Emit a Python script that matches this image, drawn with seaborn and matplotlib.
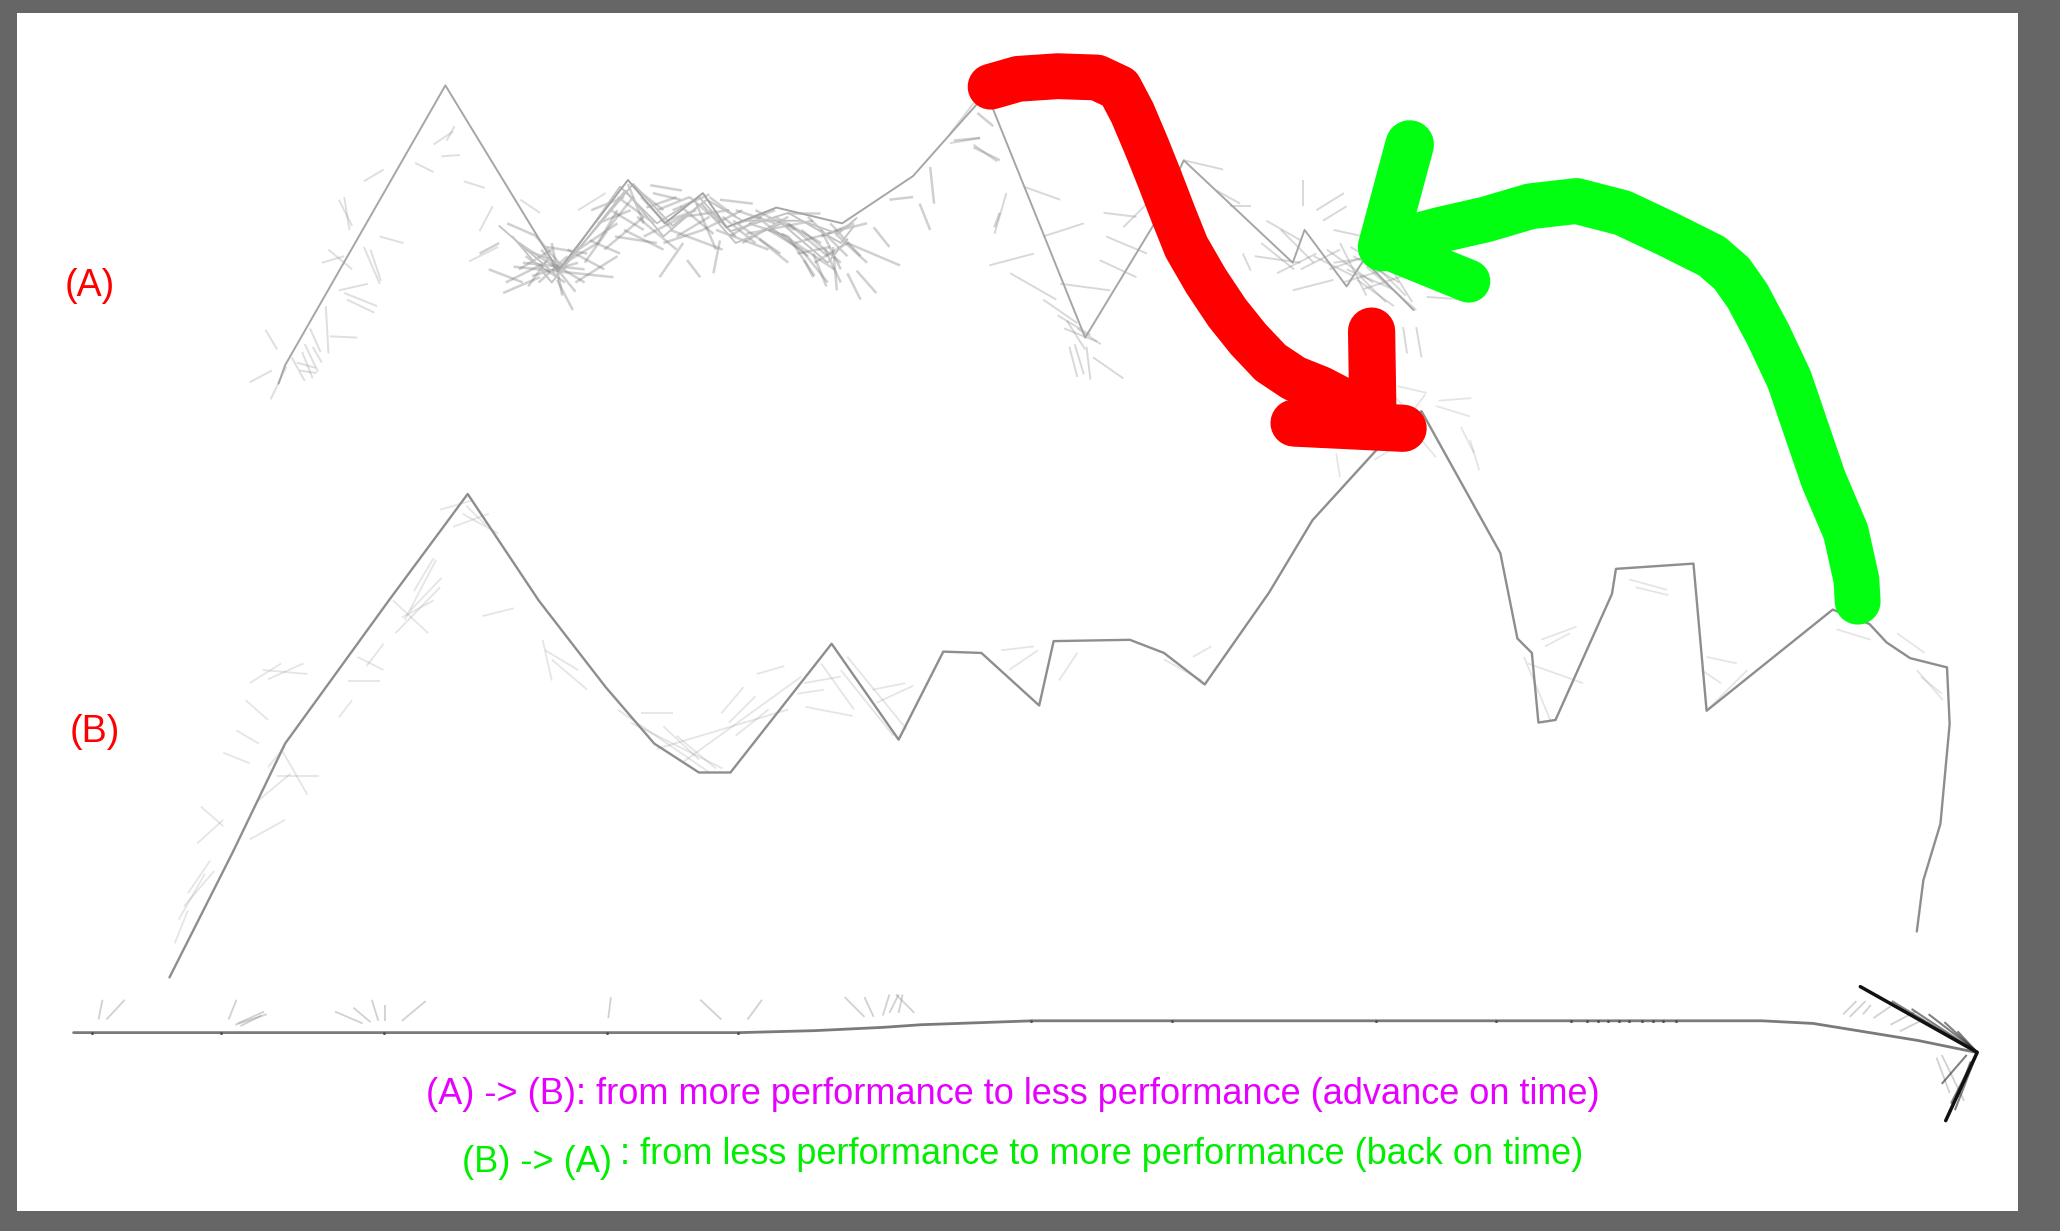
import numpy as np
import pandas as pd
import matplotlib
matplotlib.use("Agg")
import matplotlib.pyplot as plt
from matplotlib.collections import LineCollection
from matplotlib.patches import Rectangle
import seaborn as sns

# ---------------- data (coordinates, in a 1568x937 frame) -------------
A_X = [212, 217, 339, 425, 478, 506, 535, 553, 591, 641, 695, 726, 751, 826, 880, 901, 984, 993, 1025, 1038, 1076]
A_Y = [292, 278, 65, 206, 137, 170, 147, 173, 158, 170, 134, 99, 71, 257, 168, 122, 200, 175, 218, 198, 236]

A_ALT1_X = [380, 424, 472, 500, 532, 556, 600, 640, 650]
A_ALT1_Y = [172, 210, 142, 170, 150, 176, 162, 185, 172]
A_ALT2_X = [400, 430, 482, 512, 538, 565, 610, 638, 652]
A_ALT2_Y = [190, 202, 140, 172, 152, 168, 168, 178, 166]
A_ALT3_X = [390, 420, 476, 505, 534, 560, 595, 630, 645]
A_ALT3_Y = [180, 215, 145, 180, 155, 185, 170, 200, 182]

B_X = [129, 177, 217, 296, 356, 410, 461, 498, 532, 556, 633, 684, 718, 747, 791, 802, 860, 886, 917,
       966, 999, 1050, 1082, 1142, 1155, 1166, 1171, 1184, 1227, 1230, 1289, 1299, 1395, 1423, 1436,
       1454, 1482, 1484, 1477, 1464, 1459]
B_Y = [744, 649, 566, 457, 376, 457, 523, 566, 588, 588, 490, 563, 496, 497, 537, 488, 487, 497, 521,
       451, 396, 340, 313, 421, 486, 497, 550, 548, 452, 433, 429, 541, 464, 475, 489,
       501, 508, 551, 627, 670, 709]

AXIS_X = [56, 563, 620, 672, 701, 786, 1341, 1380, 1417, 1460, 1504]
AXIS_Y = [786, 786, 784.5, 782, 780, 777, 777, 779, 785, 792, 801]
TICK_X = [70, 168, 292, 462, 562, 785, 892, 1047, 1139, 1196, 1208, 1216, 1224, 1232, 1240, 1250, 1258, 1266, 1276]
TICK_Y = [786, 786, 786, 786, 786, 777, 777, 777, 777, 777, 777, 777, 777, 777, 777, 777, 777, 777, 777]

END_X = [1416, 1505, 1481]
END_Y = [751, 801, 853]

RED_X = [754, 775, 805, 835, 852, 862, 873, 883, 893, 903, 918, 934, 950, 967, 985, 1005, 1028, 1042]
RED_Y = [66, 60, 58, 59, 67, 86, 112, 137, 163, 188, 214, 238, 258, 276, 288, 296, 308, 316]
RED_HEAD_V_X = [1044, 1045]
RED_HEAD_V_Y = [252, 316]
RED_HEAD_H_X = [985, 1068]
RED_HEAD_H_Y = [322, 326]

GREEN_X = [1414, 1413, 1405, 1388, 1376, 1362, 1346, 1330, 1318, 1303, 1269, 1235, 1200, 1165, 1131, 1096, 1058]
GREEN_Y = [458, 441, 405, 365, 330, 289, 255, 225, 208, 195, 178, 162, 153, 157, 167, 175, 185]
GREEN_HEAD1_X = [1052, 1073]
GREEN_HEAD1_Y = [188, 110]
GREEN_HEAD2_X = [1054, 1118]
GREEN_HEAD2_Y = [188, 214]

STROKES_A_LEFT = [
    (190, 291, 207, 282), (206, 304, 218, 279), (202, 251, 211, 266), (228, 282, 241, 284),
    (226, 276, 240, 280), (238, 264, 245, 276), (232, 262, 242, 283), (251, 256, 272, 257),
    (248, 233, 250, 269), (258, 221, 280, 216), (262, 223, 287, 233), (264, 228, 285, 238),
    (277, 188, 289, 216), (282, 190, 290, 214), (289, 180, 307, 185), (258, 152, 268, 172),
    (262, 150, 266, 175), (277, 138, 292, 129), (316, 124, 330, 131), (336, 119, 350, 118),
    (353, 138, 369, 143), (340, 107, 346, 96), (330, 110, 345, 100), (365, 176, 375, 157),
    (357, 199, 379, 188), (396, 152, 411, 162), (440, 160, 461, 147), (245, 200, 262, 195),
    (250, 190, 268, 205), (222, 272, 232, 290), (230, 268, 238, 288), (236, 250, 244, 268),
]
STROKES_A_MID = [
    (365, 193, 380, 185), (383, 223, 411, 211), (386, 170, 409, 180), (424, 213, 436, 236),
    (391, 203, 467, 211), (416, 188, 447, 193), (449, 183, 472, 193), (495, 141, 519, 145),
    (497, 147, 518, 152), (518, 157, 543, 178), (502, 211, 520, 185), (523, 198, 533, 211),
    (543, 208, 548, 183), (548, 152, 573, 155), (558, 168, 594, 193), (568, 178, 619, 168),
    (599, 162, 624, 162), (607, 193, 632, 188), (612, 198, 619, 211), (619, 193, 629, 218),
    (634, 188, 637, 221), (639, 175, 660, 170), (645, 185, 685, 202), (645, 208, 655, 228),
    (652, 206, 667, 223), (665, 173, 677, 188), (700, 155, 708, 175), (708, 127, 711, 155),
    (677, 152, 695, 150), (726, 107, 746, 105), (741, 112, 761, 122), (744, 86, 756, 96),
    (757, 173, 761, 162),
    (400, 195, 430, 215), (405, 210, 440, 200), (395, 185, 425, 205), (410, 215, 432, 195),
    (398, 200, 445, 205), (412, 190, 438, 222), (420, 185, 428, 225), (430, 200, 455, 185),
    (402, 218, 418, 196), (440, 190, 470, 170), (445, 200, 462, 176), (455, 170, 480, 160),
    (465, 160, 490, 175), (470, 150, 498, 170), (478, 140, 490, 170), (482, 142, 505, 160),
    (488, 150, 512, 175), (500, 160, 525, 150), (508, 168, 530, 160), (515, 180, 540, 165),
    (525, 150, 548, 170), (530, 155, 545, 190), (540, 160, 560, 180), (550, 165, 575, 185),
    (560, 160, 590, 170), (570, 170, 600, 180), (575, 160, 605, 175), (585, 175, 610, 190),
    (590, 165, 625, 185), (600, 170, 630, 195), (610, 175, 640, 200), (615, 165, 645, 195),
    (625, 180, 650, 170), (605, 185, 640, 175), (620, 200, 645, 185), (628, 190, 640, 215),
    (395, 205, 420, 190), (385, 215, 415, 200), (372, 205, 398, 215),
    (455, 185, 470, 160), (460, 190, 490, 165), (468, 180, 500, 185), (475, 175, 505, 190),
    (485, 165, 515, 190), (490, 180, 520, 165), (505, 185, 535, 175), (510, 175, 550, 190),
    (520, 165, 555, 160), (535, 175, 565, 160), (545, 175, 585, 190), (555, 180, 580, 165),
    (565, 185, 600, 165), (580, 168, 615, 195), (595, 178, 635, 205), (632, 170, 655, 195),
    (420, 200, 445, 215), (432, 190, 460, 205), (438, 215, 470, 195), (408, 180, 430, 205),
    (450, 160, 475, 150), (462, 175, 482, 150), (492, 158, 515, 150), (512, 160, 540, 148),
    (540, 150, 560, 165), (562, 170, 590, 160), (578, 182, 600, 200), (600, 180, 620, 210),
    (610, 190, 630, 215), (625, 175, 640, 205), (636, 178, 660, 200),
]
STROKES_A_RIGHT = [
    (723, 102, 743, 76), (723, 109, 746, 105), (741, 110, 759, 123), (757, 178, 766, 147),
    (779, 142, 807, 152), (753, 202, 787, 193), (769, 208, 804, 228), (794, 180, 825, 170),
    (794, 228, 820, 246), (807, 216, 845, 221), (814, 264, 820, 287), (827, 264, 830, 289),
    (832, 272, 855, 288), (818, 262, 825, 285), (840, 162, 865, 165), (842, 180, 873, 193),
    (837, 198, 865, 211), (855, 173, 878, 150), (901, 122, 931, 129), (926, 145, 944, 155),
    (936, 157, 952, 157), (946, 193, 952, 206), (964, 168, 990, 183), (992, 137, 992, 157),
    (1002, 160, 1023, 147), (1007, 168, 1025, 157), (972, 208, 1002, 193), (984, 221, 1015, 213),
    (1015, 175, 1038, 180), (1028, 188, 1053, 203), (1033, 213, 1061, 233), (1040, 203, 1078, 236),
    (1068, 249, 1071, 269), (1078, 249, 1082, 272), (1083, 213, 1109, 223), (1086, 226, 1114, 228),
    (1010, 190, 1045, 215), (1015, 200, 1050, 195), (1020, 185, 1040, 225), (1025, 205, 1060, 220),
    (1030, 195, 1065, 215), (1035, 210, 1055, 230), (1000, 195, 1030, 210), (1045, 200, 1070, 225),
    (1050, 190, 1075, 230), (960, 185, 985, 205), (955, 195, 990, 200), (975, 175, 1000, 200),
    (805, 240, 830, 255), (810, 250, 835, 260), (820, 250, 838, 262), (812, 244, 826, 266),
    (1012, 205, 1040, 195), (1022, 215, 1055, 205), (1038, 220, 1068, 210), (990, 205, 1020, 190),
]
STROKES_B = [
    (133, 718, 143, 693), (136, 700, 156, 665), (143, 680, 160, 655), (140, 690, 163, 663),
    (150, 642, 170, 624), (153, 614, 170, 629), (170, 573, 190, 581), (180, 556, 197, 566),
    (187, 533, 204, 548), (190, 520, 214, 505), (200, 510, 234, 513), (204, 517, 231, 505),
    (204, 584, 217, 568), (197, 609, 221, 589), (211, 591, 243, 591), (190, 639, 217, 624),
    (214, 570, 234, 605), (258, 546, 268, 533), (265, 518, 289, 518), (272, 500, 292, 510),
    (279, 507, 292, 490), (299, 457, 326, 482), (306, 470, 330, 457), (367, 469, 391, 463),
    (301, 482, 335, 447), (308, 472, 332, 426), (312, 465, 336, 440), (315, 450, 330, 425),
    (335, 388, 359, 381), (345, 401, 372, 391), (352, 391, 379, 406), (355, 385, 370, 400),
    (413, 487, 420, 518), (420, 502, 447, 525), (415, 495, 440, 510), (488, 543, 512, 543),
    (505, 553, 532, 578), (515, 560, 545, 585), (549, 543, 566, 523), (555, 550, 575, 530),
    (576, 513, 597, 507), (560, 560, 585, 540), (607, 528, 627, 525), (612, 520, 640, 515),
    (613, 538, 649, 545), (664, 525, 689, 520), (667, 535, 695, 522), (640, 510, 680, 560),
    (645, 500, 690, 555), (625, 505, 650, 540), (762, 495, 787, 492), (768, 510, 790, 495),
    (806, 518, 820, 497), (886, 502, 915, 518), (908, 500, 922, 492), (1017, 345, 1020, 363),
    (1046, 350, 1079, 330), (1064, 294, 1086, 299), (1093, 309, 1119, 317), (1095, 305, 1120, 303),
    (1119, 335, 1126, 358), (1112, 325, 1122, 345), (1082, 335, 1093, 348), (1070, 320, 1085, 300),
    (1060, 300, 1078, 320), (1173, 487, 1200, 477), (1176, 492, 1195, 482), (1240, 441, 1269, 449),
    (1245, 447, 1270, 453), (1299, 500, 1322, 505), (1295, 510, 1310, 520), (1398, 479, 1424, 487),
    (1444, 482, 1465, 497), (1459, 510, 1479, 533), (1462, 515, 1478, 528),
    (470, 540, 540, 588), (480, 550, 550, 585), (500, 570, 600, 540), (520, 580, 610, 515),
    (1160, 500, 1180, 548), (1163, 505, 1205, 520), (1300, 540, 1330, 510),
]
STROKES_AXIS = [
    (75, 776, 78, 761), (81, 776, 95, 761), (174, 776, 180, 761), (179, 780, 203, 772),
    (181, 779, 201, 770), (183, 781, 199, 773), (276, 779, 255, 770), (282, 778, 269, 767),
    (288, 777, 283, 761), (293, 777, 293, 765), (306, 777, 324, 762), (463, 775, 465, 759),
    (549, 776, 533, 761), (569, 776, 580, 761), (658, 774, 643, 759), (665, 774, 658, 759),
    (672, 773, 677, 757), (677, 771, 684, 757), (684, 771, 687, 757), (696, 771, 682, 757),
    (1403, 772, 1413, 762), (1408, 774, 1420, 762), (1418, 772, 1424, 765), (1426, 775, 1439, 766),
    (1439, 780, 1458, 770), (1446, 785, 1464, 776), (1474, 805, 1484, 832), (1478, 803, 1495, 838),
]
STROKES_END_DARK = [
    (1440, 762, 1505, 801), (1455, 768, 1505, 801), (1468, 772, 1503, 799), (1480, 778, 1505, 801),
    (1490, 785, 1505, 801), (1505, 801, 1488, 845), (1503, 805, 1485, 840), (1500, 808, 1490, 835),
    (1497, 803, 1478, 825),
]

LABEL_A = "(A)"
LABEL_B = "(B)"
TEXT_AB = "(A) -> (B): from more performance to less performance (advance on time)"
TEXT_BA_1 = "(B) -> (A)"
TEXT_BA_2 = ": from less performance to more performance (back on time)"

# ---------------- drawing ----------------
sns.set_theme(style="white")
plt.rcParams['font.family'] = ['Liberation Sans', 'DejaVu Sans']

W, H = 1568, 937
fig = plt.figure(figsize=(20.6, 12.31), dpi=100, facecolor="#666666")
x0, x1, y0, y1 = 13, 1536, 10, 922
ax = fig.add_axes([x0 / W, (H - y1) / H, (x1 - x0) / W, (y1 - y0) / H])
ax.set_facecolor("white")
ax.set_xlim(x0, x1)
ax.set_ylim(y1, y0)
ax.set_axis_off()
ax.add_patch(Rectangle((x0, y0), x1 - x0, y1 - y0, facecolor="white", edgecolor="none", zorder=0))


def line(xs, ys, **kw):
    df = pd.DataFrame({"x": xs, "y": ys})
    sns.lineplot(data=df, x="x", y="y", sort=False, estimator=None, ax=ax, legend=False, **kw)


def strokes(segs, color, lw, z=1):
    lc = LineCollection([[(a, b), (c, d)] for a, b, c, d in segs], colors=[color], linewidths=lw, zorder=z)
    ax.add_collection(lc)


faint = (0.55, 0.55, 0.55, 0.28)
strokes(STROKES_A_LEFT, faint, 1.4)
strokes(STROKES_A_MID, (0.45, 0.45, 0.45, 0.33), 1.8)
strokes(STROKES_A_RIGHT, (0.5, 0.5, 0.5, 0.30), 1.4)
strokes(STROKES_B, (0.6, 0.6, 0.6, 0.25), 1.3)
strokes(STROKES_AXIS, (0.6, 0.6, 0.6, 0.45), 1.3)
strokes(STROKES_END_DARK, (0.1, 0.1, 0.1, 0.55), 1.5)

for ax_x, ax_y in [(A_ALT1_X, A_ALT1_Y), (A_ALT2_X, A_ALT2_Y), (A_ALT3_X, A_ALT3_Y)]:
    line(ax_x, ax_y, color="#c2c2c2", linewidth=1.3, zorder=2)
line(A_X, A_Y, color="#a6a6a6", linewidth=1.4, zorder=3)
line(B_X, B_Y, color="#8e8e8e", linewidth=1.7, zorder=3)
line(AXIS_X, AXIS_Y, color="#7a7a7a", linewidth=2.0, zorder=3)
ax.scatter(TICK_X, TICK_Y, s=5, color="#555555", zorder=4, linewidths=0)
line(END_X, END_Y, color="#111111", linewidth=2.5, zorder=4)

cap = dict(solid_capstyle="round", solid_joinstyle="round")
line(RED_X, RED_Y, color="#ff0000", linewidth=33, zorder=6, **cap)
line(RED_HEAD_V_X, RED_HEAD_V_Y, color="#ff0000", linewidth=34, zorder=6, **cap)
line(RED_HEAD_H_X, RED_HEAD_H_Y, color="#ff0000", linewidth=34, zorder=6, **cap)
line(GREEN_X, GREEN_Y, color="#00ff11", linewidth=33, zorder=6, **cap)
line(GREEN_HEAD1_X, GREEN_HEAD1_Y, color="#00ff11", linewidth=35, zorder=6, **cap)
line(GREEN_HEAD2_X, GREEN_HEAD2_Y, color="#00ff11", linewidth=31, zorder=6, **cap)

ax.text(68, 218, LABEL_A, color="#ff0000", fontsize=27, ha="center", va="center", zorder=7)
ax.text(72, 557, LABEL_B, color="#ff0000", fontsize=27, ha="center", va="center", zorder=7)
ax.text(771, 833, TEXT_AB, color="#e600ff", fontsize=26, ha="center", va="center", zorder=7)
ax.text(352, 885, TEXT_BA_1, color="#00ee00", fontsize=26, ha="left", va="center", zorder=7)
ax.text(472, 879, TEXT_BA_2, color="#00ee00", fontsize=26, ha="left", va="center", zorder=7)

fig.savefig("out.png", dpi=100, facecolor=fig.get_facecolor())
